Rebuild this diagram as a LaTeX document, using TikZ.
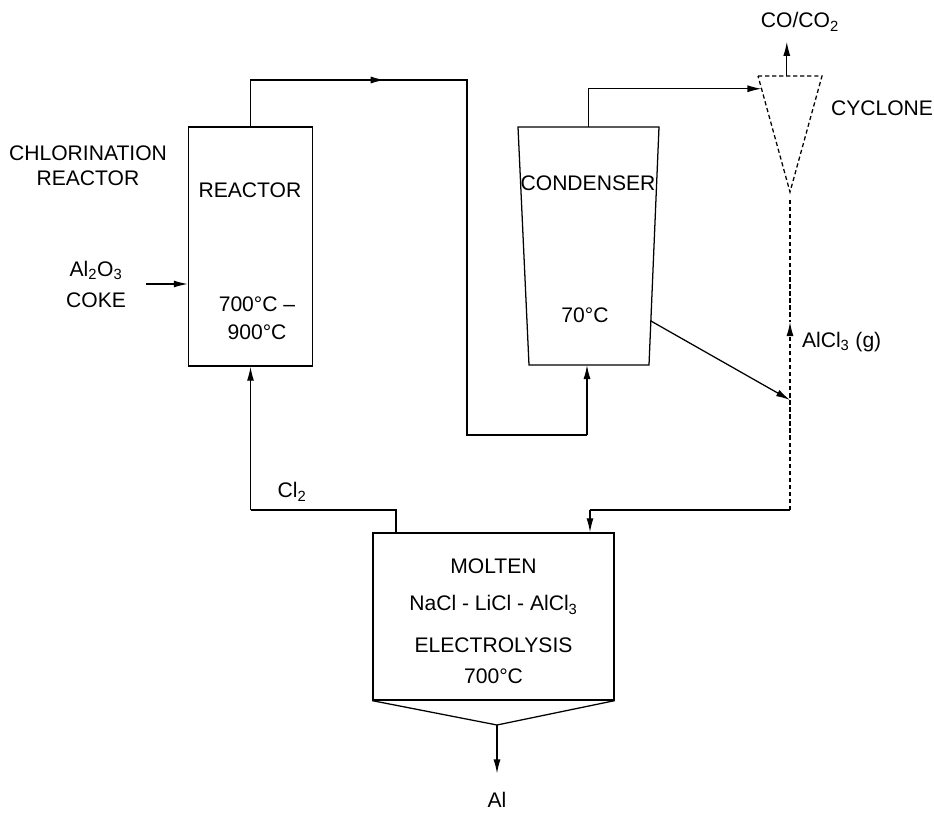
\documentclass[tikz,border=0pt]{standalone}
\usepackage{fontspec}
\setmainfont{Liberation Sans}
\usetikzlibrary{arrows.meta,positioning,calc}

\begin{document}
\begin{tikzpicture}[x=0.025cm,y=-0.025cm,>={Latex[length=10pt,width=5pt]},line width=0.9pt,
  lbl/.style={font=\fontsize{15}{18}\selectfont,inner sep=1pt,align=center},
  unit/.style={draw,inner sep=0pt}]
\useasboundingbox (0,0) rectangle (934,820);

% units
\node[unit,minimum width=3.1cm,minimum height=5.975cm] (reactor) at (250.5,246.5) {};
\node[unit,minimum width=6.025cm,minimum height=4.175cm] (elec) at (493.5,616.5) {};
\coordinate (c-tl) at (518,127); \coordinate (c-tr) at (659,127);
\coordinate (c-br) at (649,365); \coordinate (c-bl) at (529,365);
\draw (c-tl) -- (c-tr) -- (c-br) -- (c-bl) -- cycle;
\coordinate (y-tl) at (758,76); \coordinate (y-tr) at (822,76); \coordinate (y-tip) at (790,192);
\draw[densely dashed] (y-tl) -- (y-tr) -- (y-tip) -- cycle;
\coordinate (e-tip) at (497,725);
\draw (elec.south west) -- (e-tip) -- (elec.south east);

% labels
\node[lbl] (chlor) at (88,166) {CHLORINATION\\REACTOR};
\node[lbl] (rname) at (250,190) {REACTOR};
\node[lbl] (rtemp) at (257,318) {700°C –\\[2pt]900°C};
\node[lbl] (feed) at (96,284) {Al\textsubscript{2}O\textsubscript{3}\\[4pt]COKE};
\node[lbl] (cname) at (588,183) {CONDENSER};
\node[lbl] (ctemp) at (585,315) {70°C};
\node[lbl] (co) at (800,22) {CO/CO\textsubscript{2}};
\node[lbl] (cyc) at (882,108) {CYCLONE};
\node[lbl,anchor=west] (alcl) at (800,342) {AlCl\textsubscript{3} (g)};
\node[lbl] (cl) at (292,492) {Cl\textsubscript{2}};
\foreach \y/\t [count=\i] in {566/MOLTEN,605/{NaCl - LiCl - AlCl\textsubscript{3}},645/ELECTROLYSIS,676/700°C}
  \node[lbl] (e\i) at (493.5,\y) {\t};
\node[lbl] (al) at (497,800) {Al};

% streams
\draw[->,shorten <=13pt] (feed.east) -- (feed.east -| reactor.west);
\coordinate (j1) at (250.5,80); \coordinate (j2) at (467,80);
\coordinate (j3) at (467,435); \coordinate (j4) at (587,435);
\draw (reactor.north) -- (j1) -- (j2) -- (j3) -- (j4);
\draw[->] (j1) -- ($(j1)!0.62!(j2)$);
\draw[->] (j4) -- (j4 |- c-bl);
\coordinate (c-top) at ($(c-tl)!0.5!(c-tr)$);
\coordinate (y-in) at ($(y-tl)!0.11!(y-tip)$);
\draw[->] (c-top) |- (y-in);
\coordinate (y-top) at ($(y-tl)!0.45!(y-tr)$);
\draw[->,shorten >=6pt] (y-top) -- (y-top |- co.south);
\coordinate (y-out) at (790,200); \coordinate (a-up) at (790,322);
\coordinate (m1) at (790,510); \coordinate (m2) at (590,510);
\draw[densely dashed] (y-out) -- (a-up);
\draw[densely dashed,->] (m1) -- (a-up);
\coordinate (c-side) at ($(c-tr)!0.815!(c-br)$); \coordinate (a-in) at (790,400);
\draw[->] (c-side) -- (a-in);
\draw (m1) -- (m2);
\draw[->] (m2) -- (m2 |- elec.north);
\coordinate (r1) at (250.5,510); \coordinate (r2) at (396,510);
\draw[->] (r1) -- (reactor.south);
\draw (r1) -- (r2) -- (r2 |- elec.north);
\draw[->,shorten >=12pt] (e-tip) -- (al.north);
\end{tikzpicture}
\end{document}
